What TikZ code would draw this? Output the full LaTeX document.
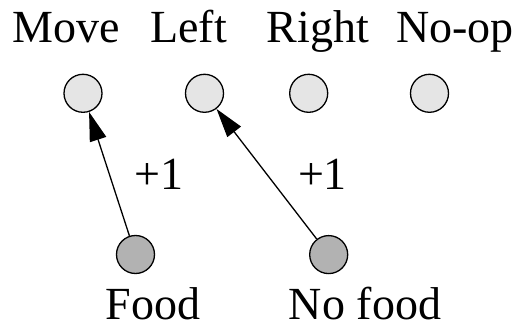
\documentclass[tikz,border=0pt]{standalone}
\usepackage{fontspec}
\setmainfont{Liberation Serif}
\usetikzlibrary{arrows.meta}
\begin{document}
\begin{tikzpicture}[x=1pt,y=-1pt,
  lbl/.style={font=\fontsize{46}{50}\selectfont, inner sep=0pt, anchor=base},
  topdot/.style={circle, draw=black, line width=1.3pt, fill=black!10, minimum size=38pt, inner sep=0pt},
  botdot/.style={circle, draw=black, line width=1.3pt, fill=black!30, minimum size=38pt, inner sep=0pt},
  arr/.style={line width=1.3pt, -{Triangle[length=29pt,width=17pt]}}]
\useasboundingbox (0,0) rectangle (520,323);
\node[lbl] (tmove) at (66,43) {Move};
\node[lbl] (tleft) at (188.5,43) {Left};
\node[lbl] (tright) at (318,43) {Right};
\node[lbl] (tnoop) at (455,43) {No-op};
\node[topdot] (move) at (83,93.3) {};
\node[topdot] (left) at (204.5,93.3) {};
\node[topdot] (right) at (308.7,93.3) {};
\node[topdot] (noop) at (429.5,93.3) {};
\node[botdot] (food) at (135.5,254.5) {};
\node[botdot] (nofood) at (328.7,254.6) {};
\node[lbl, text depth=0pt] (tfood) at (153,319.5) {Food};
\node[lbl, text depth=0pt] (tnofood) at (365,319.5) {No food};
\node[lbl] (p1) at (159,190) {+1};
\node[lbl] (p2) at (322.5,190) {+1};
\draw[arr] (food) -- (move);
\draw[arr] (nofood) -- (left);
\end{tikzpicture}
\end{document}
